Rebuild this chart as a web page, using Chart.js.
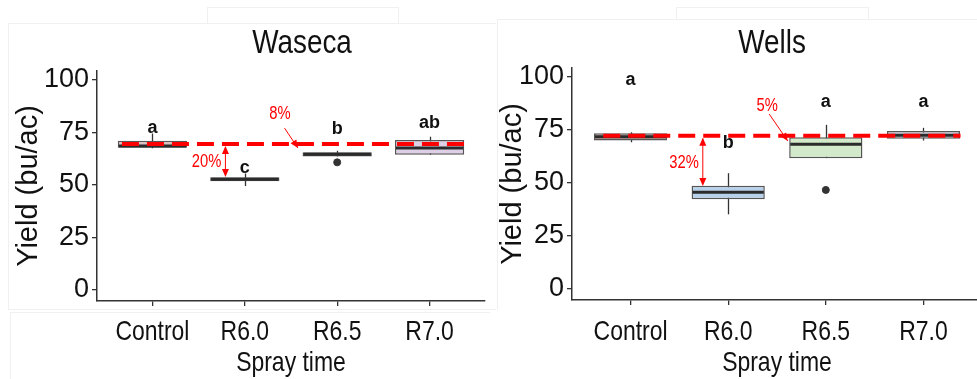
<!DOCTYPE html>
<html><head><meta charset="utf-8">
<script src="https://cdn.jsdelivr.net/npm/chart.js@4.4.0/dist/chart.umd.min.js"></script>
<style>
html,body{margin:0;padding:0;background:#fff;overflow:hidden;width:977px;height:379px}
#wrap{position:relative;width:977px;height:379px;overflow:hidden}
canvas{position:absolute;top:0}
.fr{position:absolute;box-sizing:border-box;border:0 solid #f0f0f0}
</style></head><body>
<div id="wrap">
 <div class="fr" style="left:207px;top:7px;width:192px;height:17px;border-width:1px 1px 0 1px"></div>
 <div class="fr" style="left:8px;top:23px;width:488px;height:287px;border-width:1px 0 1px 1px"></div>
 <div class="fr" style="left:10px;top:312px;width:480px;height:70px;border-width:1px 0 0 1px"></div>
 <div class="fr" style="left:676px;top:7px;width:193px;height:13px;border-width:1px 1px 0 1px"></div>
 <div class="fr" style="left:497px;top:19px;width:480px;height:291px;border-width:1px 0 0 1px"></div>
 <canvas id="c1" width="490" height="379" style="left:0"></canvas>
 <canvas id="c2" width="497" height="379" style="left:490px"></canvas>
</div>
<script>
// ---------- data ----------
const categories = ['Control', 'R6.0', 'R6.5', 'R7.0'];
const yTicks = [0, 25, 50, 75, 100];

// Waseca
const wasecaMin     = [67.5, 49.5, 63.6, 64.4];
const wasecaQ1      = [67.8, 51.8, 63.6, 64.4];
const wasecaMedian  = [68.6, 52.7, 64.6, 67.6];
const wasecaQ3      = [71.1, 53.7, 65.6, 71.4];
const wasecaMax     = [74.5, 55.5, 66.3, 73.0];
const wasecaOutlier = [null, null, 60.8, null];
const wasecaLetters = ['a', 'c', 'b', 'ab'];
const wasecaLetterY = [77.0, 58.0, 76.7, 79.5];
const wasecaControl = 69.5;
const wasecaDropLabels = ['20%', '8%'];
const wasecaDropTo = [53.8, 67.6];

// Wells
const wellsMin     = [69.2, 35.2, 61.7, 70.0];
const wellsQ1      = [70.0, 42.3, 61.7, 70.8];
const wellsMedian  = [71.8, 45.6, 68.3, 72.5];
const wellsQ3      = [73.4, 48.7, 71.6, 74.5];
const wellsMax     = [73.9, 54.6, 77.4, 76.0];
const wellsOutlier = [null, null, 46.7, null];
const wellsLetters = ['a', 'b', 'a', 'a'];
const wellsLetterY = [98.6, 68.9, 88.0, 88.0];
const wellsControl = 72.3;
const wellsDropLabels = ['32%', '5%'];
const wellsDropTo = [48.6, 69.8];

// ---------- styles ----------
const SANS = '"Liberation Sans", Arial, sans-serif';
const NARROW_K = 0.82;   // emulate Arial Narrow
const wasecaFill = ['#dcc0c0', '#4a4a4a', '#4a4a4a', '#ddd0e6'];
const wellsFill = ['#c9a39e', '#b8d1ea', '#d2eaca', '#d6cfe0'];

function narrowWrap(ctx, fn) {
  const orig = CanvasRenderingContext2D.prototype.fillText;
  ctx.fillText = function (t, x, y) {
    this.save(); this.translate(x, y); this.scale(NARROW_K, 1);
    orig.call(this, t, 0, 0); this.restore();
  };
  try { fn(); } finally { delete ctx.fillText; }
}
function narrowText(ctx, t, x, y) { narrowWrap(ctx, () => ctx.fillText(t, x, y)); }

function arrowHead(ctx, x, y, ang, len, wid) {
  ctx.beginPath();
  ctx.moveTo(x, y);
  ctx.lineTo(x - len * Math.cos(ang) + wid * Math.sin(ang), y - len * Math.sin(ang) - wid * Math.cos(ang));
  ctx.lineTo(x - len * Math.cos(ang) - wid * Math.sin(ang), y - len * Math.sin(ang) + wid * Math.cos(ang));
  ctx.closePath();
  ctx.fill();
}

function makeChart(id, p) {
  const plugin = {
    id: 'boxExtras',
    afterLayout(chart) {
      const s = chart.scales.x;
      if (s && !s._narrowed) {
        const dl = s.drawLabels.bind(s), dt = s.drawTitle.bind(s);
        s.drawLabels = a => narrowWrap(chart.ctx, () => dl(a));
        s.drawTitle = () => narrowWrap(chart.ctx, () => dt());
        s._narrowed = true;
      }
    },
    beforeDatasetsDraw(chart) {
      const { ctx, scales: { x, y } } = chart;
      ctx.save();
      ctx.strokeStyle = '#333'; ctx.lineWidth = 1.3;
      p.min.forEach((v, i) => {
        const px = Math.round(x.getPixelForValue(i)) + 0.5;
        ctx.beginPath();
        ctx.moveTo(px, y.getPixelForValue(p.min[i]));
        ctx.lineTo(px, y.getPixelForValue(p.max[i]));
        ctx.stroke();
      });
      ctx.restore();
    },
    afterDatasetsDraw(chart) {
      const { ctx, scales: { x, y } } = chart;
      const meta = chart.getDatasetMeta(0);
      ctx.save();
      // medians
      ctx.strokeStyle = '#2b2b2b'; ctx.lineWidth = 3;
      p.median.forEach((m, i) => {
        const bar = meta.data[i];
        const py = y.getPixelForValue(m);
        ctx.beginPath();
        ctx.moveTo(bar.x - bar.width / 2 + 1, py);
        ctx.lineTo(bar.x + bar.width / 2 - 1, py);
        ctx.stroke();
      });
      // red dashed control line
      const ry = y.getPixelForValue(p.control);
      ctx.strokeStyle = '#ff0000'; ctx.lineWidth = 4; ctx.setLineDash([17, 8]);
      ctx.beginPath();
      ctx.moveTo(x.getPixelForValue(p.lineFrom), ry);
      ctx.lineTo(x.getPixelForValue(p.lineTo), ry);
      ctx.stroke();
      ctx.setLineDash([]);
      // vertical double arrow
      ctx.strokeStyle = '#ff0000'; ctx.fillStyle = '#ff0000'; ctx.lineWidth = 1;
      const ax = x.getPixelForValue(p.arrowAt);
      const ay2 = y.getPixelForValue(p.dropTo[0]);
      ctx.beginPath(); ctx.moveTo(ax, ry + 3); ctx.lineTo(ax, ay2 - 3); ctx.stroke();
      arrowHead(ctx, ax, ry + 2, -Math.PI / 2, 8, 3.5);
      arrowHead(ctx, ax, ay2, Math.PI / 2, 8, 3.5);
      ctx.font = '18px ' + SANS;
      ctx.textAlign = 'right'; ctx.textBaseline = 'middle';
      narrowText(ctx, p.dropLabels[0], ax - 4, y.getPixelForValue(p.dropTextY));
      // diagonal arrow
      const sx = x.getPixelForValue(p.diag[0]), sy = y.getPixelForValue(p.diag[1]);
      const ex = x.getPixelForValue(p.diag[2]), ey = y.getPixelForValue(p.dropTo[1]);
      ctx.beginPath(); ctx.moveTo(sx, sy); ctx.lineTo(ex, ey); ctx.stroke();
      arrowHead(ctx, ex, ey, Math.atan2(ey - sy, ex - sx), 8, 3.5);
      ctx.textAlign = 'center';
      narrowText(ctx, p.dropLabels[1], x.getPixelForValue(p.diagText[0]), y.getPixelForValue(p.diagText[1]));
      // letters
      ctx.fillStyle = '#111';
      ctx.font = 'bold 18px ' + SANS;
      p.letters.forEach((l, i) => ctx.fillText(l, x.getPixelForValue(i), y.getPixelForValue(p.letterY[i])));
      // panel title
      ctx.font = '34px ' + SANS;
      narrowText(ctx, p.title, p.titleX, 44);
      ctx.restore();
    }
  };

  return new Chart(document.getElementById(id), {
    type: 'bar',
    data: {
      datasets: [
        {
          type: 'bar',
          data: categories.map((c, i) => ({ x: i, y: [p.q1[i], p.q3[i]] })),
          backgroundColor: p.fill,
          borderColor: '#555',
          borderWidth: 1.5,
          borderSkipped: false,
          barPercentage: 0.75,
          categoryPercentage: 1
        },
        {
          type: 'scatter',
          data: categories.map((c, i) => ({ x: i, y: p.outlier[i] })),
          pointRadius: 3.5,
          pointBackgroundColor: '#333',
          pointBorderColor: '#333',
          showLine: false
        }
      ]
    },
    options: {
      responsive: false,
      animation: false,
      devicePixelRatio: 1,
      layout: { padding: { top: p.top, right: p.padRight, left: 0, bottom: 0 } },
      plugins: { legend: { display: false }, tooltip: { enabled: false }, title: { display: false } },
      scales: {
        x: {
          type: 'linear', min: -0.6, max: 3.6, offset: false,
          afterBuildTicks: s => { s.ticks = categories.map((c, i) => ({ value: i })); },
          afterFit: s => { s.height = p.xHeight; },
          ticks: { callback: v => categories[v], color: '#111', autoSkip: false, maxRotation: 0,
                   font: { family: SANS, size: 28, lineHeight: 1 }, padding: p.xTickPad },
          grid: { drawOnChartArea: false, drawTicks: true, tickLength: 5, color: '#333', lineWidth: 1.3, offset: false },
          border: { display: true, color: '#333', width: 1.5 },
          title: { display: true, text: 'Spray time', color: '#111',
                   font: { family: SANS, size: 28, lineHeight: 1 }, padding: { top: 0, bottom: 2 } }
        },
        y: {
          min: p.yMin, max: p.yMax,
          afterBuildTicks: s => { s.ticks = yTicks.map(v => ({ value: v })); },
          afterFit: s => { s.width = p.yWidth; },
          ticks: { color: '#111', font: { family: SANS, size: 27, lineHeight: 1 }, padding: 3 },
          grid: { drawOnChartArea: false, drawTicks: true, tickLength: 5, color: '#333', lineWidth: 1.3 },
          border: { display: true, color: '#333', width: 1.5 },
          title: { display: true, text: 'Yield (bu/ac)', color: '#111',
                   font: { family: SANS, size: 29, lineHeight: 1 }, padding: { top: p.yTitlePad, bottom: 0 } }
        }
      }
    },
    plugins: [plugin]
  });
}

makeChart('c1', {
  title: 'Waseca', titleX: 302,
  min: wasecaMin, q1: wasecaQ1, median: wasecaMedian, q3: wasecaQ3, max: wasecaMax,
  outlier: wasecaOutlier, letters: wasecaLetters, letterY: wasecaLetterY,
  control: wasecaControl, dropLabels: wasecaDropLabels, dropTo: wasecaDropTo,
  fill: wasecaFill,
  lineFrom: -0.33, lineTo: 3.42, arrowAt: 0.79, dropTextY: 61,
  diag: [1.43, 77.1, 1.575], diagText: [1.38, 83.8],
  top: 71, padRight: 0, xHeight: 78, yWidth: 97, yMin: -5.24, yMax: 104.3,
  xTickPad: 12, yTitlePad: 14
});

makeChart('c2', {
  title: 'Wells', titleX: 282,
  min: wellsMin, q1: wellsQ1, median: wellsMedian, q3: wellsQ3, max: wellsMax,
  outlier: wellsOutlier, letters: wellsLetters, letterY: wellsLetterY,
  control: wellsControl, dropLabels: wellsDropLabels, dropTo: wellsDropTo,
  fill: wellsFill,
  lineFrom: -0.28, lineTo: 3.38, arrowAt: 0.74, dropTextY: 59.4,
  diag: [1.42, 82.5, 1.61], diagText: [1.40, 86.3],
  top: 68, padRight: 2, xHeight: 79, yWidth: 82, yMin: -5.19, yMax: 104.2,
  xTickPad: 13, yTitlePad: 8.5
});
</script>
</body></html>
